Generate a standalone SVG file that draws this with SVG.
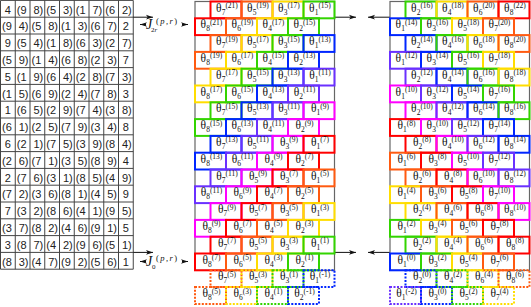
<svg xmlns="http://www.w3.org/2000/svg" width="531" height="307" viewBox="0 0 531 307">
<style>
.tb text{font:11px "Liberation Sans",Arial,sans-serif;fill:#222}
.tc{text-anchor:middle}
.te{text-anchor:end}
.grid{fill:none;stroke:#444;stroke-width:1}
.pan{fill:none;stroke:#666;stroke-width:1.2}
.br rect{fill:none;stroke-width:2}
.br text{font:11.5px "Liberation Serif","Times New Roman",serif;text-anchor:middle;fill:#111}
.s{font-size:7.5px}
.c0{stroke:#ff0000}.c1{stroke:#ff5a10}.c2{stroke:#ffdd00}.c3{stroke:#33d400}.c4{stroke:#0026ff}.c5{stroke:#6a30ff}.c6{stroke:#ff00ff}
.d{stroke-dasharray:2 1.5}
.ar{fill:none;stroke:#111;stroke-width:1}
.lb{font-family:"Liberation Serif","Times New Roman",serif;fill:#111}
</style>
<defs>
<marker id="ah" viewBox="0 0 8 6" refX="8" refY="3" markerWidth="7" markerHeight="5.5" markerUnits="userSpaceOnUse" orient="auto"><path d="M0,0.3 L8,3 L0,5.7 L2,3z" fill="#111"/></marker>
</defs>
<g id="table" class="tb">
<path class="grid" d="M0.5 0.4V269.2M15.25 0.4V269.2M30 0.4V269.2M44.75 0.4V269.2M59.5 0.4V269.2M74.25 0.4V269.2M89 0.4V269.2M103.75 0.4V269.2M118.5 0.4V269.2M133.25 0.4V269.2M0.5 0.4H133.25M0.5 17.2H133.25M0.5 34H133.25M0.5 50.8H133.25M0.5 67.6H133.25M0.5 84.4H133.25M0.5 101.2H133.25M0.5 118H133.25M0.5 134.8H133.25M0.5 151.6H133.25M0.5 168.4H133.25M0.5 185.2H133.25M0.5 202H133.25M0.5 218.8H133.25M0.5 235.6H133.25M0.5 252.4H133.25M0.5 269.2H133.25"/>
<text class="tc" x="7.9" y="13.6">4</text><text x="16.75" y="13.6">(9</text><text class="te" x="43.25" y="13.6">8)</text><text x="46.25" y="13.6">(5</text><text class="te" x="72.75" y="13.6">3)</text><text x="75.75" y="13.6">(1</text><text class="te" x="102.25" y="13.6">7)</text><text x="105.25" y="13.6">(6</text><text class="te" x="131.75" y="13.6">2)</text>
<text x="2" y="30.4">(9</text><text class="te" x="28.5" y="30.4">4)</text><text x="31.5" y="30.4">(5</text><text class="te" x="58" y="30.4">8)</text><text x="61" y="30.4">(1</text><text class="te" x="87.5" y="30.4">3)</text><text x="90.5" y="30.4">(6</text><text class="te" x="117" y="30.4">7)</text><text class="tc" x="125.9" y="30.4">2</text>
<text class="tc" x="7.9" y="47.2">9</text><text x="16.75" y="47.2">(5</text><text class="te" x="43.25" y="47.2">4)</text><text x="46.25" y="47.2">(1</text><text class="te" x="72.75" y="47.2">8)</text><text x="75.75" y="47.2">(6</text><text class="te" x="102.25" y="47.2">3)</text><text x="105.25" y="47.2">(2</text><text class="te" x="131.75" y="47.2">7)</text>
<text x="2" y="64">(5</text><text class="te" x="28.5" y="64">9)</text><text x="31.5" y="64">(1</text><text class="te" x="58" y="64">4)</text><text x="61" y="64">(6</text><text class="te" x="87.5" y="64">8)</text><text x="90.5" y="64">(2</text><text class="te" x="117" y="64">3)</text><text class="tc" x="125.9" y="64">7</text>
<text class="tc" x="7.9" y="80.8">5</text><text x="16.75" y="80.8">(1</text><text class="te" x="43.25" y="80.8">9)</text><text x="46.25" y="80.8">(6</text><text class="te" x="72.75" y="80.8">4)</text><text x="75.75" y="80.8">(2</text><text class="te" x="102.25" y="80.8">8)</text><text x="105.25" y="80.8">(7</text><text class="te" x="131.75" y="80.8">3)</text>
<text x="2" y="97.6">(1</text><text class="te" x="28.5" y="97.6">5)</text><text x="31.5" y="97.6">(6</text><text class="te" x="58" y="97.6">9)</text><text x="61" y="97.6">(2</text><text class="te" x="87.5" y="97.6">4)</text><text x="90.5" y="97.6">(7</text><text class="te" x="117" y="97.6">8)</text><text class="tc" x="125.9" y="97.6">3</text>
<text class="tc" x="7.9" y="114.4">1</text><text x="16.75" y="114.4">(6</text><text class="te" x="43.25" y="114.4">5)</text><text x="46.25" y="114.4">(2</text><text class="te" x="72.75" y="114.4">9)</text><text x="75.75" y="114.4">(7</text><text class="te" x="102.25" y="114.4">4)</text><text x="105.25" y="114.4">(3</text><text class="te" x="131.75" y="114.4">8)</text>
<text x="2" y="131.2">(6</text><text class="te" x="28.5" y="131.2">1)</text><text x="31.5" y="131.2">(2</text><text class="te" x="58" y="131.2">5)</text><text x="61" y="131.2">(7</text><text class="te" x="87.5" y="131.2">9)</text><text x="90.5" y="131.2">(3</text><text class="te" x="117" y="131.2">4)</text><text class="tc" x="125.9" y="131.2">8</text>
<text class="tc" x="7.9" y="148">6</text><text x="16.75" y="148">(2</text><text class="te" x="43.25" y="148">1)</text><text x="46.25" y="148">(7</text><text class="te" x="72.75" y="148">5)</text><text x="75.75" y="148">(3</text><text class="te" x="102.25" y="148">9)</text><text x="105.25" y="148">(8</text><text class="te" x="131.75" y="148">4)</text>
<text x="2" y="164.8">(2</text><text class="te" x="28.5" y="164.8">6)</text><text x="31.5" y="164.8">(7</text><text class="te" x="58" y="164.8">1)</text><text x="61" y="164.8">(3</text><text class="te" x="87.5" y="164.8">5)</text><text x="90.5" y="164.8">(8</text><text class="te" x="117" y="164.8">9)</text><text class="tc" x="125.9" y="164.8">4</text>
<text class="tc" x="7.9" y="181.6">2</text><text x="16.75" y="181.6">(7</text><text class="te" x="43.25" y="181.6">6)</text><text x="46.25" y="181.6">(3</text><text class="te" x="72.75" y="181.6">1)</text><text x="75.75" y="181.6">(8</text><text class="te" x="102.25" y="181.6">5)</text><text x="105.25" y="181.6">(4</text><text class="te" x="131.75" y="181.6">9)</text>
<text x="2" y="198.4">(7</text><text class="te" x="28.5" y="198.4">2)</text><text x="31.5" y="198.4">(3</text><text class="te" x="58" y="198.4">6)</text><text x="61" y="198.4">(8</text><text class="te" x="87.5" y="198.4">1)</text><text x="90.5" y="198.4">(4</text><text class="te" x="117" y="198.4">5)</text><text class="tc" x="125.9" y="198.4">9</text>
<text class="tc" x="7.9" y="215.2">7</text><text x="16.75" y="215.2">(3</text><text class="te" x="43.25" y="215.2">2)</text><text x="46.25" y="215.2">(8</text><text class="te" x="72.75" y="215.2">6)</text><text x="75.75" y="215.2">(4</text><text class="te" x="102.25" y="215.2">1)</text><text x="105.25" y="215.2">(9</text><text class="te" x="131.75" y="215.2">5)</text>
<text x="2" y="232">(3</text><text class="te" x="28.5" y="232">7)</text><text x="31.5" y="232">(8</text><text class="te" x="58" y="232">2)</text><text x="61" y="232">(4</text><text class="te" x="87.5" y="232">6)</text><text x="90.5" y="232">(9</text><text class="te" x="117" y="232">1)</text><text class="tc" x="125.9" y="232">5</text>
<text class="tc" x="7.9" y="248.8">3</text><text x="16.75" y="248.8">(8</text><text class="te" x="43.25" y="248.8">7)</text><text x="46.25" y="248.8">(4</text><text class="te" x="72.75" y="248.8">2)</text><text x="75.75" y="248.8">(9</text><text class="te" x="102.25" y="248.8">6)</text><text x="105.25" y="248.8">(5</text><text class="te" x="131.75" y="248.8">1)</text>
<text x="2" y="265.6">(8</text><text class="te" x="28.5" y="265.6">3)</text><text x="31.5" y="265.6">(4</text><text class="te" x="58" y="265.6">7)</text><text x="61" y="265.6">(9</text><text class="te" x="87.5" y="265.6">2)</text><text x="90.5" y="265.6">(5</text><text class="te" x="117" y="265.6">6)</text><text class="tc" x="125.9" y="265.6">1</text>
</g>
<g id="connectors">
<path class="ar" d="M133.25 17.2H153" marker-end="url(#ah)"/>
<path class="ar" d="M133.25 252.4H153" marker-end="url(#ah)"/>
<path class="ar" d="M334.5 17.2H356" marker-end="url(#ah)"/>
<path class="ar" d="M390 17.2H368" marker-end="url(#ah)"/>
<path class="ar" d="M334.5 252.4H356" marker-end="url(#ah)"/>
<path class="ar" d="M390 252.4H368" marker-end="url(#ah)"/>
<path class="ar" d="M146 24.5H140" marker-end="url(#ah)"/>
<path class="ar" d="M182 24.5H188" marker-end="url(#ah)"/>
<path class="ar" d="M146 261.5H140" marker-end="url(#ah)"/>
<path class="ar" d="M182 261.5H188" marker-end="url(#ah)"/>
</g>
<g id="label-J2r" class="lb"><text x="146" y="28.5" font-size="14" font-style="italic">J</text><text x="151" y="32" font-size="7">2<tspan font-style="italic">r</tspan></text><text x="156" y="23.5" font-size="8.5" textLength="21">(<tspan font-style="italic">p</tspan>,<tspan font-style="italic">r</tspan>)</text></g>
<g id="label-J0" class="lb"><text x="146" y="265.5" font-size="14" font-style="italic">J</text><text x="152" y="268.5" font-size="7">0</text><text x="156" y="260.5" font-size="8.5" textLength="21">(<tspan font-style="italic">p</tspan>,<tspan font-style="italic">r</tspan>)</text></g>
<rect id="panel-left" class="pan" x="195" y="1.5" width="139.5" height="268.8"/>
<rect id="panel-right" class="pan" x="390" y="1.5" width="139.5" height="268.8"/>
<g class="br">
<g id="m0a"><rect class="c0" x="210.5" y="1.5" width="31" height="16.8"/><text x="227" y="11.5">θ<tspan class="s" dy="3">7</tspan><tspan class="s" dy="-6.5">(21)</tspan></text></g>
<g id="m0b"><rect class="c1" x="241.5" y="1.5" width="31" height="16.8"/><text x="258" y="11.5">θ<tspan class="s" dy="3">5</tspan><tspan class="s" dy="-6.5">(19)</tspan></text></g>
<g id="m0c"><rect class="c2" x="272.5" y="1.5" width="31" height="16.8"/><text x="289" y="11.5">θ<tspan class="s" dy="3">3</tspan><tspan class="s" dy="-6.5">(17)</tspan></text></g>
<g id="m0d"><rect class="c3" x="303.5" y="1.5" width="31" height="16.8"/><text x="320" y="11.5">θ<tspan class="s" dy="3">1</tspan><tspan class="s" dy="-6.5">(15)</tspan></text></g>
<g id="m1a"><rect class="c0" x="195" y="18.3" width="31" height="16.8"/><text x="211.5" y="28.3">θ<tspan class="s" dy="3">8</tspan><tspan class="s" dy="-6.5">(21)</tspan></text></g>
<g id="m1b"><rect class="c1" x="226" y="18.3" width="31" height="16.8"/><text x="242.5" y="28.3">θ<tspan class="s" dy="3">6</tspan><tspan class="s" dy="-6.5">(19)</tspan></text></g>
<g id="m1c"><rect class="c2" x="257" y="18.3" width="31" height="16.8"/><text x="273.5" y="28.3">θ<tspan class="s" dy="3">4</tspan><tspan class="s" dy="-6.5">(17)</tspan></text></g>
<g id="m1d"><rect class="c3" x="288" y="18.3" width="31" height="16.8"/><text x="304.5" y="28.3">θ<tspan class="s" dy="3">2</tspan><tspan class="s" dy="-6.5">(15)</tspan></text></g>
<g id="m2a"><rect class="c1" x="210.5" y="35.1" width="31" height="16.8"/><text x="227" y="45.1">θ<tspan class="s" dy="3">7</tspan><tspan class="s" dy="-6.5">(19)</tspan></text></g>
<g id="m2b"><rect class="c2" x="241.5" y="35.1" width="31" height="16.8"/><text x="258" y="45.1">θ<tspan class="s" dy="3">5</tspan><tspan class="s" dy="-6.5">(17)</tspan></text></g>
<g id="m2c"><rect class="c3" x="272.5" y="35.1" width="31" height="16.8"/><text x="289" y="45.1">θ<tspan class="s" dy="3">3</tspan><tspan class="s" dy="-6.5">(15)</tspan></text></g>
<g id="m2d"><rect class="c4" x="303.5" y="35.1" width="31" height="16.8"/><text x="320" y="45.1">θ<tspan class="s" dy="3">1</tspan><tspan class="s" dy="-6.5">(13)</tspan></text></g>
<g id="m3a"><rect class="c1" x="195" y="51.9" width="31" height="16.8"/><text x="211.5" y="61.9">θ<tspan class="s" dy="3">8</tspan><tspan class="s" dy="-6.5">(19)</tspan></text></g>
<g id="m3b"><rect class="c2" x="226" y="51.9" width="31" height="16.8"/><text x="242.5" y="61.9">θ<tspan class="s" dy="3">6</tspan><tspan class="s" dy="-6.5">(17)</tspan></text></g>
<g id="m3c"><rect class="c3" x="257" y="51.9" width="31" height="16.8"/><text x="273.5" y="61.9">θ<tspan class="s" dy="3">4</tspan><tspan class="s" dy="-6.5">(15)</tspan></text></g>
<g id="m3d"><rect class="c4" x="288" y="51.9" width="31" height="16.8"/><text x="304.5" y="61.9">θ<tspan class="s" dy="3">2</tspan><tspan class="s" dy="-6.5">(13)</tspan></text></g>
<g id="m4a"><rect class="c2" x="210.5" y="68.7" width="31" height="16.8"/><text x="227" y="78.7">θ<tspan class="s" dy="3">7</tspan><tspan class="s" dy="-6.5">(17)</tspan></text></g>
<g id="m4b"><rect class="c3" x="241.5" y="68.7" width="31" height="16.8"/><text x="258" y="78.7">θ<tspan class="s" dy="3">5</tspan><tspan class="s" dy="-6.5">(15)</tspan></text></g>
<g id="m4c"><rect class="c4" x="272.5" y="68.7" width="31" height="16.8"/><text x="289" y="78.7">θ<tspan class="s" dy="3">3</tspan><tspan class="s" dy="-6.5">(13)</tspan></text></g>
<g id="m4d"><rect class="c5" x="303.5" y="68.7" width="31" height="16.8"/><text x="320" y="78.7">θ<tspan class="s" dy="3">1</tspan><tspan class="s" dy="-6.5">(11)</tspan></text></g>
<g id="m5a"><rect class="c2" x="195" y="85.5" width="31" height="16.8"/><text x="211.5" y="95.5">θ<tspan class="s" dy="3">8</tspan><tspan class="s" dy="-6.5">(17)</tspan></text></g>
<g id="m5b"><rect class="c3" x="226" y="85.5" width="31" height="16.8"/><text x="242.5" y="95.5">θ<tspan class="s" dy="3">6</tspan><tspan class="s" dy="-6.5">(15)</tspan></text></g>
<g id="m5c"><rect class="c4" x="257" y="85.5" width="31" height="16.8"/><text x="273.5" y="95.5">θ<tspan class="s" dy="3">4</tspan><tspan class="s" dy="-6.5">(13)</tspan></text></g>
<g id="m5d"><rect class="c5" x="288" y="85.5" width="31" height="16.8"/><text x="304.5" y="95.5">θ<tspan class="s" dy="3">2</tspan><tspan class="s" dy="-6.5">(11)</tspan></text></g>
<g id="m6a"><rect class="c3" x="210.5" y="102.3" width="31" height="16.8"/><text x="227" y="112.3">θ<tspan class="s" dy="3">7</tspan><tspan class="s" dy="-6.5">(15)</tspan></text></g>
<g id="m6b"><rect class="c4" x="241.5" y="102.3" width="31" height="16.8"/><text x="258" y="112.3">θ<tspan class="s" dy="3">5</tspan><tspan class="s" dy="-6.5">(13)</tspan></text></g>
<g id="m6c"><rect class="c5" x="272.5" y="102.3" width="31" height="16.8"/><text x="289" y="112.3">θ<tspan class="s" dy="3">3</tspan><tspan class="s" dy="-6.5">(11)</tspan></text></g>
<g id="m6d"><rect class="c6" x="303.5" y="102.3" width="31" height="16.8"/><text x="320" y="112.3">θ<tspan class="s" dy="3">1</tspan><tspan class="s" dy="-6.5">(9)</tspan></text></g>
<g id="m7a"><rect class="c3" x="195" y="119.1" width="31" height="16.8"/><text x="211.5" y="129.1">θ<tspan class="s" dy="3">8</tspan><tspan class="s" dy="-6.5">(15)</tspan></text></g>
<g id="m7b"><rect class="c4" x="226" y="119.1" width="31" height="16.8"/><text x="242.5" y="129.1">θ<tspan class="s" dy="3">6</tspan><tspan class="s" dy="-6.5">(13)</tspan></text></g>
<g id="m7c"><rect class="c5" x="257" y="119.1" width="31" height="16.8"/><text x="273.5" y="129.1">θ<tspan class="s" dy="3">4</tspan><tspan class="s" dy="-6.5">(11)</tspan></text></g>
<g id="m7d"><rect class="c6" x="288" y="119.1" width="31" height="16.8"/><text x="304.5" y="129.1">θ<tspan class="s" dy="3">2</tspan><tspan class="s" dy="-6.5">(9)</tspan></text></g>
<g id="m8a"><rect class="c4" x="210.5" y="135.9" width="31" height="16.8"/><text x="227" y="145.9">θ<tspan class="s" dy="3">7</tspan><tspan class="s" dy="-6.5">(13)</tspan></text></g>
<g id="m8b"><rect class="c5" x="241.5" y="135.9" width="31" height="16.8"/><text x="258" y="145.9">θ<tspan class="s" dy="3">5</tspan><tspan class="s" dy="-6.5">(11)</tspan></text></g>
<g id="m8c"><rect class="c6" x="272.5" y="135.9" width="31" height="16.8"/><text x="289" y="145.9">θ<tspan class="s" dy="3">3</tspan><tspan class="s" dy="-6.5">(9)</tspan></text></g>
<g id="m8d"><rect class="c0" x="303.5" y="135.9" width="31" height="16.8"/><text x="320" y="145.9">θ<tspan class="s" dy="3">1</tspan><tspan class="s" dy="-6.5">(7)</tspan></text></g>
<g id="m9a"><rect class="c4" x="195" y="152.7" width="31" height="16.8"/><text x="211.5" y="162.7">θ<tspan class="s" dy="3">8</tspan><tspan class="s" dy="-6.5">(13)</tspan></text></g>
<g id="m9b"><rect class="c5" x="226" y="152.7" width="31" height="16.8"/><text x="242.5" y="162.7">θ<tspan class="s" dy="3">6</tspan><tspan class="s" dy="-6.5">(11)</tspan></text></g>
<g id="m9c"><rect class="c6" x="257" y="152.7" width="31" height="16.8"/><text x="273.5" y="162.7">θ<tspan class="s" dy="3">4</tspan><tspan class="s" dy="-6.5">(9)</tspan></text></g>
<g id="m9d"><rect class="c0" x="288" y="152.7" width="31" height="16.8"/><text x="304.5" y="162.7">θ<tspan class="s" dy="3">2</tspan><tspan class="s" dy="-6.5">(7)</tspan></text></g>
<g id="m10a"><rect class="c5" x="210.5" y="169.5" width="31" height="16.8"/><text x="227" y="179.5">θ<tspan class="s" dy="3">7</tspan><tspan class="s" dy="-6.5">(11)</tspan></text></g>
<g id="m10b"><rect class="c6" x="241.5" y="169.5" width="31" height="16.8"/><text x="258" y="179.5">θ<tspan class="s" dy="3">5</tspan><tspan class="s" dy="-6.5">(9)</tspan></text></g>
<g id="m10c"><rect class="c0" x="272.5" y="169.5" width="31" height="16.8"/><text x="289" y="179.5">θ<tspan class="s" dy="3">3</tspan><tspan class="s" dy="-6.5">(7)</tspan></text></g>
<g id="m10d"><rect class="c1" x="303.5" y="169.5" width="31" height="16.8"/><text x="320" y="179.5">θ<tspan class="s" dy="3">1</tspan><tspan class="s" dy="-6.5">(5)</tspan></text></g>
<g id="m11a"><rect class="c5" x="195" y="186.3" width="31" height="16.8"/><text x="211.5" y="196.3">θ<tspan class="s" dy="3">8</tspan><tspan class="s" dy="-6.5">(11)</tspan></text></g>
<g id="m11b"><rect class="c6" x="226" y="186.3" width="31" height="16.8"/><text x="242.5" y="196.3">θ<tspan class="s" dy="3">6</tspan><tspan class="s" dy="-6.5">(9)</tspan></text></g>
<g id="m11c"><rect class="c0" x="257" y="186.3" width="31" height="16.8"/><text x="273.5" y="196.3">θ<tspan class="s" dy="3">4</tspan><tspan class="s" dy="-6.5">(7)</tspan></text></g>
<g id="m11d"><rect class="c1" x="288" y="186.3" width="31" height="16.8"/><text x="304.5" y="196.3">θ<tspan class="s" dy="3">2</tspan><tspan class="s" dy="-6.5">(5)</tspan></text></g>
<g id="m12a"><rect class="c6" x="210.5" y="203.1" width="31" height="16.8"/><text x="227" y="213.1">θ<tspan class="s" dy="3">7</tspan><tspan class="s" dy="-6.5">(9)</tspan></text></g>
<g id="m12b"><rect class="c0" x="241.5" y="203.1" width="31" height="16.8"/><text x="258" y="213.1">θ<tspan class="s" dy="3">5</tspan><tspan class="s" dy="-6.5">(7)</tspan></text></g>
<g id="m12c"><rect class="c1" x="272.5" y="203.1" width="31" height="16.8"/><text x="289" y="213.1">θ<tspan class="s" dy="3">3</tspan><tspan class="s" dy="-6.5">(5)</tspan></text></g>
<g id="m12d"><rect class="c2" x="303.5" y="203.1" width="31" height="16.8"/><text x="320" y="213.1">θ<tspan class="s" dy="3">1</tspan><tspan class="s" dy="-6.5">(3)</tspan></text></g>
<g id="m13a"><rect class="c6" x="195" y="219.9" width="31" height="16.8"/><text x="211.5" y="229.9">θ<tspan class="s" dy="3">8</tspan><tspan class="s" dy="-6.5">(9)</tspan></text></g>
<g id="m13b"><rect class="c0" x="226" y="219.9" width="31" height="16.8"/><text x="242.5" y="229.9">θ<tspan class="s" dy="3">6</tspan><tspan class="s" dy="-6.5">(7)</tspan></text></g>
<g id="m13c"><rect class="c1" x="257" y="219.9" width="31" height="16.8"/><text x="273.5" y="229.9">θ<tspan class="s" dy="3">4</tspan><tspan class="s" dy="-6.5">(5)</tspan></text></g>
<g id="m13d"><rect class="c2" x="288" y="219.9" width="31" height="16.8"/><text x="304.5" y="229.9">θ<tspan class="s" dy="3">2</tspan><tspan class="s" dy="-6.5">(3)</tspan></text></g>
<g id="m14a"><rect class="c0" x="210.5" y="236.7" width="31" height="16.8"/><text x="227" y="246.7">θ<tspan class="s" dy="3">7</tspan><tspan class="s" dy="-6.5">(7)</tspan></text></g>
<g id="m14b"><rect class="c1" x="241.5" y="236.7" width="31" height="16.8"/><text x="258" y="246.7">θ<tspan class="s" dy="3">5</tspan><tspan class="s" dy="-6.5">(5)</tspan></text></g>
<g id="m14c"><rect class="c2" x="272.5" y="236.7" width="31" height="16.8"/><text x="289" y="246.7">θ<tspan class="s" dy="3">3</tspan><tspan class="s" dy="-6.5">(3)</tspan></text></g>
<g id="m14d"><rect class="c3" x="303.5" y="236.7" width="31" height="16.8"/><text x="320" y="246.7">θ<tspan class="s" dy="3">1</tspan><tspan class="s" dy="-6.5">(1)</tspan></text></g>
<g id="m15a"><rect class="c0" x="195" y="253.5" width="31" height="16.8"/><text x="211.5" y="263.5">θ<tspan class="s" dy="3">8</tspan><tspan class="s" dy="-6.5">(7)</tspan></text></g>
<g id="m15b"><rect class="c1" x="226" y="253.5" width="31" height="16.8"/><text x="242.5" y="263.5">θ<tspan class="s" dy="3">6</tspan><tspan class="s" dy="-6.5">(5)</tspan></text></g>
<g id="m15c"><rect class="c2" x="257" y="253.5" width="31" height="16.8"/><text x="273.5" y="263.5">θ<tspan class="s" dy="3">4</tspan><tspan class="s" dy="-6.5">(3)</tspan></text></g>
<g id="m15d"><rect class="c3" x="288" y="253.5" width="31" height="16.8"/><text x="304.5" y="263.5">θ<tspan class="s" dy="3">2</tspan><tspan class="s" dy="-6.5">(1)</tspan></text></g>
<g id="m16a"><rect class="c1 d" x="210.5" y="270.3" width="31" height="16.8"/><text x="227" y="280.3">θ<tspan class="s" dy="3">7</tspan><tspan class="s" dy="-6.5">(5)</tspan></text></g>
<g id="m16b"><rect class="c2 d" x="241.5" y="270.3" width="31" height="16.8"/><text x="258" y="280.3">θ<tspan class="s" dy="3">5</tspan><tspan class="s" dy="-6.5">(3)</tspan></text></g>
<g id="m16c"><rect class="c3 d" x="272.5" y="270.3" width="31" height="16.8"/><text x="289" y="280.3">θ<tspan class="s" dy="3">3</tspan><tspan class="s" dy="-6.5">(1)</tspan></text></g>
<g id="m16d"><rect class="c4 d" x="303.5" y="270.3" width="31" height="16.8"/><text x="320" y="280.3">θ<tspan class="s" dy="3">1</tspan><tspan class="s" dy="-6.5">(-1)</tspan></text></g>
<g id="m17a"><rect class="c1 d" x="195" y="287.1" width="31" height="16.8"/><text x="211.5" y="297.1">θ<tspan class="s" dy="3">8</tspan><tspan class="s" dy="-6.5">(5)</tspan></text></g>
<g id="m17b"><rect class="c2 d" x="226" y="287.1" width="31" height="16.8"/><text x="242.5" y="297.1">θ<tspan class="s" dy="3">6</tspan><tspan class="s" dy="-6.5">(3)</tspan></text></g>
<g id="m17c"><rect class="c3 d" x="257" y="287.1" width="31" height="16.8"/><text x="273.5" y="297.1">θ<tspan class="s" dy="3">4</tspan><tspan class="s" dy="-6.5">(1)</tspan></text></g>
<g id="m17d"><rect class="c4 d" x="288" y="287.1" width="31" height="16.8"/><text x="304.5" y="297.1">θ<tspan class="s" dy="3">2</tspan><tspan class="s" dy="-6.5">(-1)</tspan></text></g>

<g id="r0a"><rect class="c3" x="405.5" y="1.5" width="31" height="16.8"/><text x="422" y="11.5">θ<tspan class="s" dy="3">2</tspan><tspan class="s" dy="-6.5">(16)</tspan></text></g>
<g id="r0b"><rect class="c2" x="436.5" y="1.5" width="31" height="16.8"/><text x="453" y="11.5">θ<tspan class="s" dy="3">4</tspan><tspan class="s" dy="-6.5">(18)</tspan></text></g>
<g id="r0c"><rect class="c1" x="467.5" y="1.5" width="31" height="16.8"/><text x="484" y="11.5">θ<tspan class="s" dy="3">6</tspan><tspan class="s" dy="-6.5">(20)</tspan></text></g>
<g id="r0d"><rect class="c0" x="498.5" y="1.5" width="31" height="16.8"/><text x="515" y="11.5">θ<tspan class="s" dy="3">8</tspan><tspan class="s" dy="-6.5">(22)</tspan></text></g>
<g id="r1a"><rect class="c4" x="390" y="18.3" width="31" height="16.8"/><text x="406.5" y="28.3">θ<tspan class="s" dy="3">1</tspan><tspan class="s" dy="-6.5">(14)</tspan></text></g>
<g id="r1b"><rect class="c3" x="421" y="18.3" width="31" height="16.8"/><text x="437.5" y="28.3">θ<tspan class="s" dy="3">3</tspan><tspan class="s" dy="-6.5">(16)</tspan></text></g>
<g id="r1c"><rect class="c2" x="452" y="18.3" width="31" height="16.8"/><text x="468.5" y="28.3">θ<tspan class="s" dy="3">5</tspan><tspan class="s" dy="-6.5">(18)</tspan></text></g>
<g id="r1d"><rect class="c1" x="483" y="18.3" width="31" height="16.8"/><text x="499.5" y="28.3">θ<tspan class="s" dy="3">7</tspan><tspan class="s" dy="-6.5">(20)</tspan></text></g>
<g id="r2a"><rect class="c4" x="405.5" y="35.1" width="31" height="16.8"/><text x="422" y="45.1">θ<tspan class="s" dy="3">2</tspan><tspan class="s" dy="-6.5">(14)</tspan></text></g>
<g id="r2b"><rect class="c3" x="436.5" y="35.1" width="31" height="16.8"/><text x="453" y="45.1">θ<tspan class="s" dy="3">4</tspan><tspan class="s" dy="-6.5">(16)</tspan></text></g>
<g id="r2c"><rect class="c2" x="467.5" y="35.1" width="31" height="16.8"/><text x="484" y="45.1">θ<tspan class="s" dy="3">6</tspan><tspan class="s" dy="-6.5">(18)</tspan></text></g>
<g id="r2d"><rect class="c1" x="498.5" y="35.1" width="31" height="16.8"/><text x="515" y="45.1">θ<tspan class="s" dy="3">8</tspan><tspan class="s" dy="-6.5">(20)</tspan></text></g>
<g id="r3a"><rect class="c5" x="390" y="51.9" width="31" height="16.8"/><text x="406.5" y="61.9">θ<tspan class="s" dy="3">1</tspan><tspan class="s" dy="-6.5">(12)</tspan></text></g>
<g id="r3b"><rect class="c4" x="421" y="51.9" width="31" height="16.8"/><text x="437.5" y="61.9">θ<tspan class="s" dy="3">3</tspan><tspan class="s" dy="-6.5">(14)</tspan></text></g>
<g id="r3c"><rect class="c3" x="452" y="51.9" width="31" height="16.8"/><text x="468.5" y="61.9">θ<tspan class="s" dy="3">5</tspan><tspan class="s" dy="-6.5">(16)</tspan></text></g>
<g id="r3d"><rect class="c2" x="483" y="51.9" width="31" height="16.8"/><text x="499.5" y="61.9">θ<tspan class="s" dy="3">7</tspan><tspan class="s" dy="-6.5">(18)</tspan></text></g>
<g id="r4a"><rect class="c5" x="405.5" y="68.7" width="31" height="16.8"/><text x="422" y="78.7">θ<tspan class="s" dy="3">2</tspan><tspan class="s" dy="-6.5">(12)</tspan></text></g>
<g id="r4b"><rect class="c4" x="436.5" y="68.7" width="31" height="16.8"/><text x="453" y="78.7">θ<tspan class="s" dy="3">4</tspan><tspan class="s" dy="-6.5">(14)</tspan></text></g>
<g id="r4c"><rect class="c3" x="467.5" y="68.7" width="31" height="16.8"/><text x="484" y="78.7">θ<tspan class="s" dy="3">6</tspan><tspan class="s" dy="-6.5">(16)</tspan></text></g>
<g id="r4d"><rect class="c2" x="498.5" y="68.7" width="31" height="16.8"/><text x="515" y="78.7">θ<tspan class="s" dy="3">8</tspan><tspan class="s" dy="-6.5">(18)</tspan></text></g>
<g id="r5a"><rect class="c6" x="390" y="85.5" width="31" height="16.8"/><text x="406.5" y="95.5">θ<tspan class="s" dy="3">1</tspan><tspan class="s" dy="-6.5">(10)</tspan></text></g>
<g id="r5b"><rect class="c5" x="421" y="85.5" width="31" height="16.8"/><text x="437.5" y="95.5">θ<tspan class="s" dy="3">3</tspan><tspan class="s" dy="-6.5">(12)</tspan></text></g>
<g id="r5c"><rect class="c4" x="452" y="85.5" width="31" height="16.8"/><text x="468.5" y="95.5">θ<tspan class="s" dy="3">5</tspan><tspan class="s" dy="-6.5">(14)</tspan></text></g>
<g id="r5d"><rect class="c3" x="483" y="85.5" width="31" height="16.8"/><text x="499.5" y="95.5">θ<tspan class="s" dy="3">7</tspan><tspan class="s" dy="-6.5">(16)</tspan></text></g>
<g id="r6a"><rect class="c6" x="405.5" y="102.3" width="31" height="16.8"/><text x="422" y="112.3">θ<tspan class="s" dy="3">2</tspan><tspan class="s" dy="-6.5">(10)</tspan></text></g>
<g id="r6b"><rect class="c5" x="436.5" y="102.3" width="31" height="16.8"/><text x="453" y="112.3">θ<tspan class="s" dy="3">4</tspan><tspan class="s" dy="-6.5">(12)</tspan></text></g>
<g id="r6c"><rect class="c4" x="467.5" y="102.3" width="31" height="16.8"/><text x="484" y="112.3">θ<tspan class="s" dy="3">6</tspan><tspan class="s" dy="-6.5">(14)</tspan></text></g>
<g id="r6d"><rect class="c3" x="498.5" y="102.3" width="31" height="16.8"/><text x="515" y="112.3">θ<tspan class="s" dy="3">8</tspan><tspan class="s" dy="-6.5">(16)</tspan></text></g>
<g id="r7a"><rect class="c0" x="390" y="119.1" width="31" height="16.8"/><text x="406.5" y="129.1">θ<tspan class="s" dy="3">1</tspan><tspan class="s" dy="-6.5">(8)</tspan></text></g>
<g id="r7b"><rect class="c6" x="421" y="119.1" width="31" height="16.8"/><text x="437.5" y="129.1">θ<tspan class="s" dy="3">3</tspan><tspan class="s" dy="-6.5">(10)</tspan></text></g>
<g id="r7c"><rect class="c5" x="452" y="119.1" width="31" height="16.8"/><text x="468.5" y="129.1">θ<tspan class="s" dy="3">5</tspan><tspan class="s" dy="-6.5">(12)</tspan></text></g>
<g id="r7d"><rect class="c4" x="483" y="119.1" width="31" height="16.8"/><text x="499.5" y="129.1">θ<tspan class="s" dy="3">7</tspan><tspan class="s" dy="-6.5">(14)</tspan></text></g>
<g id="r8a"><rect class="c0" x="405.5" y="135.9" width="31" height="16.8"/><text x="422" y="145.9">θ<tspan class="s" dy="3">2</tspan><tspan class="s" dy="-6.5">(8)</tspan></text></g>
<g id="r8b"><rect class="c6" x="436.5" y="135.9" width="31" height="16.8"/><text x="453" y="145.9">θ<tspan class="s" dy="3">4</tspan><tspan class="s" dy="-6.5">(10)</tspan></text></g>
<g id="r8c"><rect class="c5" x="467.5" y="135.9" width="31" height="16.8"/><text x="484" y="145.9">θ<tspan class="s" dy="3">6</tspan><tspan class="s" dy="-6.5">(12)</tspan></text></g>
<g id="r8d"><rect class="c4" x="498.5" y="135.9" width="31" height="16.8"/><text x="515" y="145.9">θ<tspan class="s" dy="3">8</tspan><tspan class="s" dy="-6.5">(14)</tspan></text></g>
<g id="r9a"><rect class="c1" x="390" y="152.7" width="31" height="16.8"/><text x="406.5" y="162.7">θ<tspan class="s" dy="3">1</tspan><tspan class="s" dy="-6.5">(6)</tspan></text></g>
<g id="r9b"><rect class="c0" x="421" y="152.7" width="31" height="16.8"/><text x="437.5" y="162.7">θ<tspan class="s" dy="3">3</tspan><tspan class="s" dy="-6.5">(8)</tspan></text></g>
<g id="r9c"><rect class="c6" x="452" y="152.7" width="31" height="16.8"/><text x="468.5" y="162.7">θ<tspan class="s" dy="3">5</tspan><tspan class="s" dy="-6.5">(10)</tspan></text></g>
<g id="r9d"><rect class="c5" x="483" y="152.7" width="31" height="16.8"/><text x="499.5" y="162.7">θ<tspan class="s" dy="3">7</tspan><tspan class="s" dy="-6.5">(12)</tspan></text></g>
<g id="r10a"><rect class="c1" x="405.5" y="169.5" width="31" height="16.8"/><text x="422" y="179.5">θ<tspan class="s" dy="3">2</tspan><tspan class="s" dy="-6.5">(6)</tspan></text></g>
<g id="r10b"><rect class="c0" x="436.5" y="169.5" width="31" height="16.8"/><text x="453" y="179.5">θ<tspan class="s" dy="3">4</tspan><tspan class="s" dy="-6.5">(8)</tspan></text></g>
<g id="r10c"><rect class="c6" x="467.5" y="169.5" width="31" height="16.8"/><text x="484" y="179.5">θ<tspan class="s" dy="3">6</tspan><tspan class="s" dy="-6.5">(10)</tspan></text></g>
<g id="r10d"><rect class="c5" x="498.5" y="169.5" width="31" height="16.8"/><text x="515" y="179.5">θ<tspan class="s" dy="3">8</tspan><tspan class="s" dy="-6.5">(12)</tspan></text></g>
<g id="r11a"><rect class="c2" x="390" y="186.3" width="31" height="16.8"/><text x="406.5" y="196.3">θ<tspan class="s" dy="3">1</tspan><tspan class="s" dy="-6.5">(4)</tspan></text></g>
<g id="r11b"><rect class="c1" x="421" y="186.3" width="31" height="16.8"/><text x="437.5" y="196.3">θ<tspan class="s" dy="3">3</tspan><tspan class="s" dy="-6.5">(6)</tspan></text></g>
<g id="r11c"><rect class="c0" x="452" y="186.3" width="31" height="16.8"/><text x="468.5" y="196.3">θ<tspan class="s" dy="3">5</tspan><tspan class="s" dy="-6.5">(8)</tspan></text></g>
<g id="r11d"><rect class="c6" x="483" y="186.3" width="31" height="16.8"/><text x="499.5" y="196.3">θ<tspan class="s" dy="3">7</tspan><tspan class="s" dy="-6.5">(10)</tspan></text></g>
<g id="r12a"><rect class="c2" x="405.5" y="203.1" width="31" height="16.8"/><text x="422" y="213.1">θ<tspan class="s" dy="3">2</tspan><tspan class="s" dy="-6.5">(4)</tspan></text></g>
<g id="r12b"><rect class="c1" x="436.5" y="203.1" width="31" height="16.8"/><text x="453" y="213.1">θ<tspan class="s" dy="3">4</tspan><tspan class="s" dy="-6.5">(6)</tspan></text></g>
<g id="r12c"><rect class="c0" x="467.5" y="203.1" width="31" height="16.8"/><text x="484" y="213.1">θ<tspan class="s" dy="3">6</tspan><tspan class="s" dy="-6.5">(8)</tspan></text></g>
<g id="r12d"><rect class="c6" x="498.5" y="203.1" width="31" height="16.8"/><text x="515" y="213.1">θ<tspan class="s" dy="3">8</tspan><tspan class="s" dy="-6.5">(10)</tspan></text></g>
<g id="r13a"><rect class="c3" x="390" y="219.9" width="31" height="16.8"/><text x="406.5" y="229.9">θ<tspan class="s" dy="3">1</tspan><tspan class="s" dy="-6.5">(2)</tspan></text></g>
<g id="r13b"><rect class="c2" x="421" y="219.9" width="31" height="16.8"/><text x="437.5" y="229.9">θ<tspan class="s" dy="3">3</tspan><tspan class="s" dy="-6.5">(4)</tspan></text></g>
<g id="r13c"><rect class="c1" x="452" y="219.9" width="31" height="16.8"/><text x="468.5" y="229.9">θ<tspan class="s" dy="3">5</tspan><tspan class="s" dy="-6.5">(6)</tspan></text></g>
<g id="r13d"><rect class="c0" x="483" y="219.9" width="31" height="16.8"/><text x="499.5" y="229.9">θ<tspan class="s" dy="3">7</tspan><tspan class="s" dy="-6.5">(8)</tspan></text></g>
<g id="r14a"><rect class="c3" x="405.5" y="236.7" width="31" height="16.8"/><text x="422" y="246.7">θ<tspan class="s" dy="3">2</tspan><tspan class="s" dy="-6.5">(2)</tspan></text></g>
<g id="r14b"><rect class="c2" x="436.5" y="236.7" width="31" height="16.8"/><text x="453" y="246.7">θ<tspan class="s" dy="3">4</tspan><tspan class="s" dy="-6.5">(4)</tspan></text></g>
<g id="r14c"><rect class="c1" x="467.5" y="236.7" width="31" height="16.8"/><text x="484" y="246.7">θ<tspan class="s" dy="3">6</tspan><tspan class="s" dy="-6.5">(6)</tspan></text></g>
<g id="r14d"><rect class="c0" x="498.5" y="236.7" width="31" height="16.8"/><text x="515" y="246.7">θ<tspan class="s" dy="3">8</tspan><tspan class="s" dy="-6.5">(8)</tspan></text></g>
<g id="r15a"><rect class="c4" x="390" y="253.5" width="31" height="16.8"/><text x="406.5" y="263.5">θ<tspan class="s" dy="3">1</tspan><tspan class="s" dy="-6.5">(0)</tspan></text></g>
<g id="r15b"><rect class="c3" x="421" y="253.5" width="31" height="16.8"/><text x="437.5" y="263.5">θ<tspan class="s" dy="3">3</tspan><tspan class="s" dy="-6.5">(2)</tspan></text></g>
<g id="r15c"><rect class="c2" x="452" y="253.5" width="31" height="16.8"/><text x="468.5" y="263.5">θ<tspan class="s" dy="3">5</tspan><tspan class="s" dy="-6.5">(4)</tspan></text></g>
<g id="r15d"><rect class="c1" x="483" y="253.5" width="31" height="16.8"/><text x="499.5" y="263.5">θ<tspan class="s" dy="3">7</tspan><tspan class="s" dy="-6.5">(6)</tspan></text></g>
<g id="r16a"><rect class="c4 d" x="405.5" y="270.3" width="31" height="16.8"/><text x="422" y="280.3">θ<tspan class="s" dy="3">2</tspan><tspan class="s" dy="-6.5">(0)</tspan></text></g>
<g id="r16b"><rect class="c3 d" x="436.5" y="270.3" width="31" height="16.8"/><text x="453" y="280.3">θ<tspan class="s" dy="3">4</tspan><tspan class="s" dy="-6.5">(2)</tspan></text></g>
<g id="r16c"><rect class="c2 d" x="467.5" y="270.3" width="31" height="16.8"/><text x="484" y="280.3">θ<tspan class="s" dy="3">6</tspan><tspan class="s" dy="-6.5">(4)</tspan></text></g>
<g id="r16d"><rect class="c1 d" x="498.5" y="270.3" width="31" height="16.8"/><text x="515" y="280.3">θ<tspan class="s" dy="3">8</tspan><tspan class="s" dy="-6.5">(6)</tspan></text></g>
<g id="r17a"><rect class="c5 d" x="390" y="287.1" width="31" height="16.8"/><text x="406.5" y="297.1">θ<tspan class="s" dy="3">1</tspan><tspan class="s" dy="-6.5">(-2)</tspan></text></g>
<g id="r17b"><rect class="c4 d" x="421" y="287.1" width="31" height="16.8"/><text x="437.5" y="297.1">θ<tspan class="s" dy="3">3</tspan><tspan class="s" dy="-6.5">(0)</tspan></text></g>
<g id="r17c"><rect class="c3 d" x="452" y="287.1" width="31" height="16.8"/><text x="468.5" y="297.1">θ<tspan class="s" dy="3">5</tspan><tspan class="s" dy="-6.5">(2)</tspan></text></g>
<g id="r17d"><rect class="c2 d" x="483" y="287.1" width="31" height="16.8"/><text x="499.5" y="297.1">θ<tspan class="s" dy="3">7</tspan><tspan class="s" dy="-6.5">(4)</tspan></text></g>
</g>
</svg>
